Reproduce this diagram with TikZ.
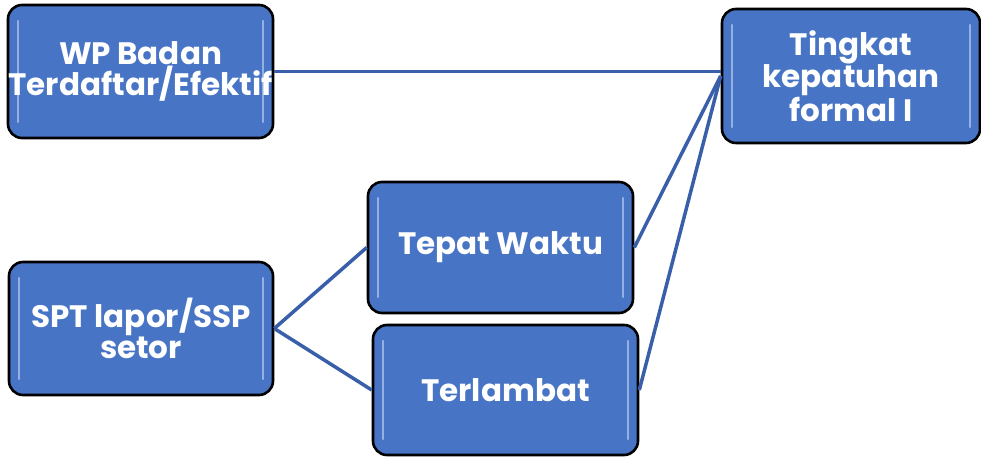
\documentclass[tikz,border=0pt]{standalone}
\usepackage{fontspec}
\setmainfont{Poppins}
\definecolor{boxblue}{HTML}{4774C4}
\definecolor{linkblue}{HTML}{3A5FAA}
\definecolor{hilite}{HTML}{A9C1EC}
\tikzset{
  box/.style={draw=black, line width=2.6pt, fill=boxblue, rounded corners=14pt,
    text=white, align=center, inner sep=0pt,
    font=\fontsize{31}{29}\selectfont\bfseries,
    path picture={
      \draw[hilite, line width=2.5pt, line cap=round, opacity=0.8]
        ([xshift=10pt,yshift=-16pt]path picture bounding box.north west) --
        ([xshift=10pt,yshift=16pt]path picture bounding box.south west);
      \draw[hilite, line width=2.5pt, line cap=round, opacity=0.8]
        ([xshift=-10pt,yshift=-16pt]path picture bounding box.north east) --
        ([xshift=-10pt,yshift=16pt]path picture bounding box.south east);
    }},
  link/.style={draw=linkblue, line width=3.5pt}
}
\begin{document}
\begin{tikzpicture}[x=1pt,y=1pt]
\useasboundingbox (0,0) rectangle (981,457);
\node[box, minimum width=265pt, minimum height=133pt] (wp) at (140.5,385.5) {WP Badan\\Terdaftar/Efektif};
\node[box, minimum width=258pt, minimum height=134pt] (tk) at (851,381) {Tingkat\\kepatuhan\\formal I};
\node[box, minimum width=264pt, minimum height=133pt] (spt) at (141,128.5) {SPT lapor/SSP\\setor};
\node[box, minimum width=265pt, minimum height=131pt] (tw) at (500.5,209.5) {Tepat Waktu};
\node[box, minimum width=265pt, minimum height=130pt] (tl) at (505.5,67) {Terlambat};
\draw[link] (wp.east) -- (wp.east -| tk.west);
\draw[link] (tw.east) -- (tk.west);
\draw[link] (tl.east) -- (tk.west);
\draw[link] (spt.east) -- (tw.west);
\draw[link] (spt.east) -- (tl.west);
\end{tikzpicture}
\end{document}
